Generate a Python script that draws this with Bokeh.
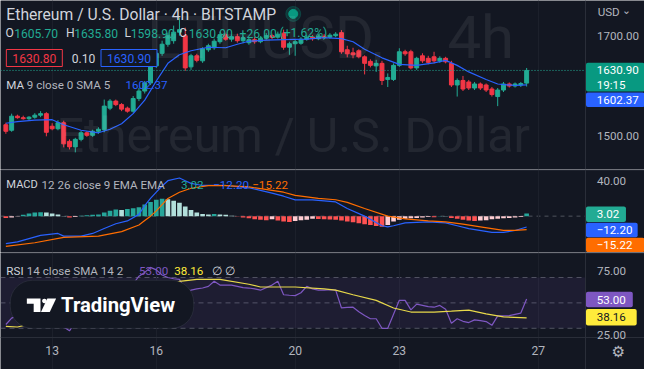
import numpy as np
from bokeh.plotting import figure
from bokeh.models import (Range1d, FixedTicker, Span, BoxAnnotation, Label, LinearAxis,
                          PolyAnnotation, ColumnDataSource, PrintfTickFormatter)
from bokeh.layouts import column
from bokeh.embed import file_html
from bokeh.resources import INLINE

# ---------------- data (4h bars) ----------------
open_ = [1523, 1512, 1540, 1537, 1535, 1538, 1542, 1545, 1520, 1515,
         1527, 1490, 1479, 1494, 1507, 1502, 1510, 1513, 1556, 1570,
         1563, 1556, 1550, 1575, 1590, 1606, 1640, 1665, 1683, 1690,
         1707, 1700, 1638, 1660, 1650, 1672, 1676, 1688, 1702, 1693,
         1698, 1690, 1686, 1692, 1688, 1695, 1700, 1697, 1705, 1677,
         1684, 1685, 1693, 1697, 1694, 1699, 1697, 1700, 1706, 1672,
         1666, 1670, 1658, 1649, 1640, 1645, 1613, 1613, 1641, 1668,
         1668, 1636, 1660, 1655, 1658, 1650, 1655, 1645, 1602, 1611,
         1608, 1596, 1604, 1602, 1594, 1579, 1592, 1604, 1600, 1602,
         1605.7]
high_ = [1527, 1545, 1543, 1541, 1540, 1546, 1550, 1548, 1526, 1532,
         1531, 1494, 1497, 1511, 1510, 1513, 1518, 1573, 1574, 1573,
         1566, 1559, 1580, 1596, 1610, 1645, 1672, 1690, 1706, 1720,
         1735, 1716, 1664, 1664, 1677, 1684, 1694, 1708, 1706, 1702,
         1704, 1700, 1697, 1697, 1699, 1705, 1704, 1708, 1712, 1688,
         1692, 1697, 1702, 1701, 1703, 1703, 1705, 1707, 1711, 1680,
         1676, 1673, 1661, 1653, 1652, 1650, 1625, 1645, 1675, 1672,
         1672, 1658, 1665, 1660, 1668, 1659, 1658, 1650, 1615, 1620,
         1612, 1608, 1607, 1605, 1598, 1596, 1608, 1607, 1607, 1608,
         1635.8]
low_ = [1505, 1509, 1535, 1533, 1532, 1535, 1538, 1500, 1512, 1512,
        1478, 1474, 1468, 1490, 1499, 1499, 1505, 1508, 1552, 1560,
        1550, 1547, 1547, 1570, 1585, 1602, 1636, 1660, 1678, 1684,
        1700, 1630, 1632, 1647, 1646, 1668, 1672, 1684, 1690, 1688,
        1686, 1685, 1682, 1684, 1685, 1692, 1693, 1694, 1672, 1662,
        1660, 1682, 1690, 1690, 1691, 1694, 1694, 1697, 1664, 1657,
        1655, 1655, 1623, 1637, 1628, 1602, 1598, 1610, 1638, 1660,
        1633, 1632, 1646, 1643, 1645, 1646, 1645, 1598, 1579, 1590,
        1592, 1592, 1592, 1588, 1579, 1560, 1588, 1597, 1597, 1598,
        1598.9]
close_ = [1510, 1540, 1537, 1535, 1538, 1542, 1545, 1508, 1515, 1527,
          1485, 1479, 1494, 1507, 1502, 1510, 1514, 1560, 1570, 1563,
          1554, 1550, 1575, 1590, 1606, 1640, 1665, 1683, 1700, 1707,
          1712, 1636, 1660, 1651, 1674, 1680, 1689, 1702, 1693, 1698,
          1690, 1696, 1692, 1688, 1695, 1700, 1697, 1703, 1677, 1684,
          1688, 1693, 1697, 1694, 1699, 1697, 1701, 1703, 1668, 1664,
          1662, 1658, 1645, 1641, 1645, 1611, 1617, 1641, 1668, 1664,
          1636, 1655, 1650, 1647, 1650, 1655, 1648, 1602, 1611, 1594,
          1596, 1604, 1596, 1592, 1583, 1592, 1604, 1600, 1604, 1604.9,
          1630.9]

# MA 9 (SMA)
ma_bar = [0, 2, 5, 8, 10, 13, 16, 18, 20, 22, 24, 26, 28, 30, 32, 35, 38, 40, 42,
          45, 48, 52, 55, 58, 60, 62, 65, 68, 71, 74, 76, 78, 80, 83, 85, 88, 90]
ma_val = [1526, 1529, 1532, 1533, 1523, 1512, 1507, 1514, 1525, 1545, 1572, 1610,
          1645, 1662, 1670, 1677, 1676, 1683, 1689, 1691, 1692, 1693, 1696, 1694,
          1688, 1673, 1656, 1643, 1641, 1646, 1651, 1641, 1628, 1613, 1604, 1601,
          1602.37]

# MACD 12 26 9
macd_bar = [0, 2, 6, 9, 10, 13, 15, 17, 19, 21, 23, 24, 25, 26, 27, 28, 30, 31, 32,
            34, 38, 42, 46, 48, 50, 53, 57, 59, 62, 65, 66, 67, 69, 73, 76, 78, 80,
            84, 86, 88, 90]
macd_val = [-31, -29, -21.6, -19.5, -22.5, -22.5, -19.5, -14, -8.6, -5.4, 2, 12, 20,
            27, 34, 40, 43, 40, 37, 34.6, 34.6, 32, 26, 22.5, 18.4, 18.4, 16, 8.6, 0,
            -10.8, -12, -10.8, -7.6, -6.5, -7.6, -10.8, -14, -18.4, -18.4, -16.2, -12.2]
signal_bar = [0, 5, 10, 16, 20, 23, 24, 25, 26, 27, 28, 30, 32, 35, 38, 42, 46, 48,
              50, 54, 57, 59, 62, 66, 69, 73, 76, 79, 82, 84, 86, 88, 90]
signal_val = [-34, -30, -24, -22.5, -17.5, -10, -5, 0, 6, 13, 20, 27, 31.5, 34.5, 34.5,
              33, 29, 27, 23.5, 20, 18.5, 15.5, 8.6, 0, -3, -5.4, -6.5, -9, -12, -14,
              -16, -16, -15.22]
hist_val = [-2, -1.5, -0.5, 1.5, 3, 4, 4.5, 4, 3, 2,
            0.3, -1.5, -1, 0.5, 1, 1.5, 2, 4, 6, 7.5,
            7, 8, 9, 10, 13, 16, 18.5, 19.5, 19, 17.5,
            15, 11, 7, 4, 2.5, 2, 2.5, 2, 1.5, 0.5,
            -0.5, -1.5, -2.5, -3.5, -4, -4.5, -3.5, -5, -6, -6.5,
            -5.5, -4.5, -4, -3, -3.3, -3.5, -3.8, -4, -5, -6,
            -7, -8, -9, -10, -11, -12, -10, -6, -4, -3,
            -2.5, -2, -1.5, -1, -1.2, 0.3, 0.2, -2, -3, -4,
            -5, -5.5, -5, -4.5, -3.5, -3, -2.5, -2, -1.5, -1,
            3.02]

# RSI 14 and its SMA 14
rsi_val = [33, 38, 40, 43, 44, 45, 46, 36, 38, 39,
           31, 28, 35, 40, 39, 41, 43, 55, 58, 55,
           52, 51, 65, 71, 74, 78, 76, 72, 70, 69,
           68.5, 59.5, 60, 61, 61.7, 63, 67, 64, 64, 64,
           63, 62, 61.7, 61, 60, 62, 64, 67, 56.4, 56,
           55.7, 58, 63, 61, 60, 60, 60.5, 60, 46, 46.5,
           46.6, 43, 40, 37.5, 37.5, 30, 30, 41, 52, 52,
           44.5, 49, 48, 47, 46.6, 48, 45, 34, 37.5, 35.5,
           34.5, 36.6, 36, 35.3, 32.3, 39.8, 39.8, 40, 41, 42,
           53.0]
rsi_ma_bar = [0, 2, 5, 9, 13, 17, 20, 24, 28, 30, 33, 37, 42, 44, 50, 55, 57, 60,
              64, 67, 70, 74, 77, 80, 83, 86, 90]
rsi_ma_val = [31.5, 31, 34, 37, 39, 41, 45, 52, 62, 67, 68.5, 68.5, 64.7, 62.5, 62.5,
              61, 60, 56.4, 52, 46, 42.8, 42.8, 43.5, 44.3, 41.3, 39, 38.16]
rsi_levels = [70, 50, 30]

tick_bar = [8, 26, 50, 68, 92]
tick_labels = ["13", "16", "20", "23", "27"]
bid_price, ask_price = 1630.80, 1630.90
countdown = "19:15"

# ---------------- styling / geometry ----------------
BG = "#131722"
GRID = "#1c202b"
SEP = "#2a2e39"
TXT = "#d1d4dc"
TXT2 = "#b2b5be"
UP = "#22ab94"
DOWN = "#f23645"
BLUE = "#2962ff"
ORANGE = "#ff6d00"
PURPLE = "#7e57c2"
YELLOW = "#ffeb3b"
FONT = "Roboto"

W, H = 644, 369
SX, SY = W / 660, H / 385
FS = 0.967
CUTS = [0, 169, 252, 369]          # canvas rows of the three panes
REF = [c / SY for c in CUTS]        # same rows in reference pixels


def fs(px):
    return f"{px * FS:.1f}px"


def fx(px):          # reference x pixel -> bar index
    return (px - 5.5) / 5.93


def fy_p(py):
    return 1700 - (py - 36.7) / 0.525


def fy_m(py):
    return (225 - py) / 0.925


def fy_r(py):
    return 70 + (289 - py) / 1.325


X0, X1 = fx(0), fx(660)
XAX = fx(600)


def make_fig(k, fy):
    h = CUTS[k + 1] - CUTS[k]
    p = figure(width=W, height=h, x_range=Range1d(X0, X1),
               y_range=Range1d(fy(REF[k + 1]), fy(REF[k])),
               output_backend="svg", toolbar_location=None, y_axis_location="right",
               x_axis_location=None, min_border=0,
               background_fill_color=BG, border_fill_color=BG, outline_line_color=None)
    ax = p.yaxis[0]
    ax.fixed_location = XAX
    ax.major_tick_out = 0
    ax.major_tick_in = 0
    ax.minor_tick_out = 0
    ax.minor_tick_in = 0
    ax.major_tick_line_color = None
    ax.minor_tick_line_color = None
    ax.axis_line_color = SEP
    ax.major_label_text_color = TXT2
    ax.major_label_text_font = FONT
    ax.major_label_text_font_size = fs(12)
    ax.major_label_standoff = 11
    ax.formatter = PrintfTickFormatter(format="%.2f")
    p.xgrid.ticker = FixedTicker(ticks=tick_bar)
    p.xgrid.grid_line_color = GRID
    p.ygrid.grid_line_color = None
    if k > 0:
        p.add_layout(Span(location=fy(REF[k] + 0.5 / SY), dimension="width",
                          line_color=SEP, line_width=1))
    return p


def lab(p, fy, px, py, text, color, size=12, bold=False, font=FONT, align="left"):
    p.add_layout(Label(x=fx(px), y=fy(py), text=text, text_color=color,
                       text_font=font, text_font_size=fs(size),
                       text_font_style="bold" if bold else "normal",
                       text_align=align, text_baseline="middle"))


def legend_box(p, fy, px, py, text, color, size=12.5):
    p.add_layout(Label(x=fx(px), y=fy(py), text=text, text_color=color,
                       text_font=FONT, text_font_size=fs(size), text_align="left",
                       text_baseline="middle", background_fill_color=BG,
                       border_line_color=color,
                       padding=dict(left=6, right=6, top=4, bottom=4)))


def tag(p, fy, y0, y1, right, bg, lines, color="#ffffff"):
    """price-scale tag: filled box from the scale edge, text lines inside"""
    p.add_layout(BoxAnnotation(left=XAX, right=fx(right), top=fy(y0), bottom=fy(y1),
                               fill_color=bg, fill_alpha=1, line_color=None,
                               border_radius=2))
    for text, py in lines:
        lab(p, fy, 611, py, text, color)


def watermark(p, px, py, text, size, align):
    p.add_layout(Label(x=fx(px), y=fy_p(py), text=text, text_color="#ffffff",
                       text_alpha=0.07, text_font=FONT, text_font_size=fs(size),
                       text_align=align, text_baseline="middle", level="guide"))


bars = list(range(len(close_)))

# ---------------- price pane ----------------
p1 = make_fig(0, fy_p)
p1.yaxis.ticker = FixedTicker(ticks=[1500, 1700])

watermark(p1, 392, 39, "ETHUSD,", 62, "right")
watermark(p1, 458, 39, "4h", 62, "left")
watermark(p1, 300, 141, "Ethereum / U.S. Dollar", 50, "center")

cols = [UP if c >= o else DOWN for o, c in zip(open_, close_)]
src = ColumnDataSource(dict(x=bars, o=open_, h=high_, l=low_, c=close_, col=cols,
                            top=[max(o, c) for o, c in zip(open_, close_)],
                            bot=[min(o, c) for o, c in zip(open_, close_)]))
p1.segment("x", "h", "x", "l", color="col", source=src, line_width=1)
p1.vbar(x="x", width=0.68, top="top", bottom="bot", fill_color="col",
        line_color="col", source=src)
p1.line(ma_bar, ma_val, color=BLUE, line_width=1.2)
p1.segment(x0=[X0], x1=[XAX], y0=[close_[-1]], y1=[close_[-1]], line_color=UP,
           line_dash="1 2", line_width=1)

# legend texts
lab(p1, fy_p, 6, 15, "Ethereum / U.S. Dollar · 4h · BITSTAMP", TXT, size=16.2)
p1.scatter([fx(300)], [fy_p(14)], size=15, color="#089981", alpha=0.25)
p1.scatter([fx(300)], [fy_p(14)], size=9, color="#089981")
chg = close_[-1] - close_[-2]
pct = chg / close_[-2] * 100
ohlc = [("O", 5), (f"{open_[-1]:.2f}", 14), ("H", 67), (f"{high_[-1]:.2f}", 75.5),
        ("L", 127), (f"{low_[-1]:.2f}", 133.5), ("C", 183), (f"{close_[-1]:.2f}", 193),
        (f"+{chg:.2f}", 245), (f"(+{pct:.2f}%)", 286)]
for i, (t, px) in enumerate(ohlc):
    lab(p1, fy_p, px, 34, t, TXT if i in (0, 2, 4, 6) else UP, size=12.5)

legend_box(p1, fy_p, 6, 60, f"{bid_price:.2f}", DOWN)
lab(p1, fy_p, 73, 60, f"{ask_price - bid_price:.2f}", TXT, size=12.5)
legend_box(p1, fy_p, 103, 60, f"{ask_price:.2f}", BLUE)

lab(p1, fy_p, 6, 88, "MA", TXT)
lab(p1, fy_p, 27, 88, "9 close 0 SMA 5", TXT2)
lab(p1, fy_p, 128, 88, f"{ma_val[-1]:.2f}", BLUE)

# right scale tags
tag(p1, fy_p, 65, 95, 660, "#089981", [(f"{close_[-1]:.2f}", 73), (countdown, 88)])
tag(p1, fy_p, 96, 111, 660, BLUE, [(f"{ma_val[-1]:.2f}", 103.5)])
lab(p1, fy_p, 612, 12, "USD", TXT2)
lab(p1, fy_p, 637, 10, "⌄", TXT2, size=11, font="DejaVu Sans")

# ---------------- MACD pane ----------------
p2 = make_fig(1, fy_m)
p2.yaxis.ticker = FixedTicker(ticks=[40])
p2.segment(x0=[X0], x1=[XAX], y0=[0], y1=[0], line_color="#787b86", line_alpha=0.6,
           line_dash="4 4", line_width=1, level="underlay")

hcols = []
for i, h in enumerate(hist_val):
    prev = hist_val[i - 1] if i else h
    if h >= 0:
        hcols.append("#26a69a" if h >= prev else "#b2dfdb")
    else:
        hcols.append("#ffcdd2" if h > prev else "#ff5252")
p2.vbar(x=bars, width=0.8, top=hist_val, bottom=0, fill_color=hcols, line_color=None)
p2.line(macd_bar, macd_val, color=BLUE, line_width=1.2)
p2.line(signal_bar, signal_val, color=ORANGE, line_width=1.2)

lab(p2, fy_m, 6, 192, "MACD", TXT, size=11.5)
lab(p2, fy_m, 42, 192, "12 26 close 9 EMA EMA", TXT2)
lab(p2, fy_m, 185, 192, f"{hist_val[-1]:.2f}", UP)
lab(p2, fy_m, 218, 192, f"{macd_val[-1]:.2f}".replace("-", "−"), BLUE)
lab(p2, fy_m, 258, 192, f"{signal_val[-1]:.2f}".replace("-", "−"), ORANGE)

tag(p2, fy_m, 215, 231, 641, UP, [(f"{hist_val[-1]:.2f}", 223)])
tag(p2, fy_m, 232, 247, 653, BLUE, [(f"{macd_val[-1]:.2f}".replace("-", "−"), 239.5)])
tag(p2, fy_m, 247.5, 262.5, 660, ORANGE,
    [(f"{signal_val[-1]:.2f}".replace("-", "−"), 255)])

# ---------------- RSI pane + time axis ----------------
p3 = make_fig(2, fy_r)
p3.yaxis.ticker = FixedTicker(ticks=[25, 75])
p3.add_layout(BoxAnnotation(left=X0, right=XAX, bottom=rsi_levels[2], top=rsi_levels[0],
                            fill_color=PURPLE, fill_alpha=0.1, line_color=None,
                            level="underlay"))
p3.segment(x0=[X0] * 3, x1=[XAX] * 3, y0=rsi_levels, y1=rsi_levels, line_color="#787b86",
           line_alpha=0.6, line_dash="5 4", line_width=1, level="underlay")
p3.line(bars, rsi_val, color=PURPLE, line_width=1.2)
p3.line(rsi_ma_bar, rsi_ma_val, color="#e8d94a", line_width=1.2)

xa = LinearAxis(fixed_location=fy_r(352), ticker=FixedTicker(ticks=tick_bar),
                major_label_overrides={t: s for t, s in zip(tick_bar, tick_labels)},
                major_tick_out=0, major_tick_in=0, minor_tick_out=0, minor_tick_in=0,
                major_tick_line_color=None, minor_tick_line_color=None,
                axis_line_color=SEP, major_label_text_color=TXT2,
                major_label_text_font=FONT, major_label_text_font_size=fs(12.5),
                major_label_standoff=8)
p3.add_layout(xa, "below")

lab(p3, fy_r, 6, 282, "RSI", TXT)
lab(p3, fy_r, 27, 282, "14 close SMA 14 2", TXT2)
lab(p3, fy_r, 142, 282, f"{rsi_val[-1]:.2f}", PURPLE)
lab(p3, fy_r, 178, 282, f"{rsi_ma_val[-1]:.2f}", YELLOW)
lab(p3, fy_r, 217, 282, "∅ ∅", TXT)

tag(p3, fy_r, 304, 320, 648, PURPLE, [(f"{rsi_val[-1]:.2f}", 312)])
tag(p3, fy_r, 322, 339, 652, YELLOW, [(f"{rsi_ma_val[-1]:.2f}", 330.5)], color="#131722")

# TradingView badge
p3.add_layout(BoxAnnotation(left=fx(10), right=fx(198), top=fy_r(292), bottom=fy_r(342),
                            fill_color="#131722", fill_alpha=1, line_color="#4a4e5a",
                            line_width=1, border_radius=22))
logo_T = [(27, 311), (41, 311), (41, 325), (34, 325), (34, 316.5), (27, 316.5)]
logo_S = [(48, 311), (57, 311), (50.5, 325), (41.5, 325)]
for poly in (logo_T, logo_S):
    p3.add_layout(PolyAnnotation(xs=[fx(a) for a, b in poly], ys=[fy_r(b) for a, b in poly],
                                 fill_color="#ffffff", fill_alpha=1, line_color=None))
ang = np.linspace(0, 2 * np.pi, 13)[:-1]
p3.add_layout(PolyAnnotation(xs=[fx(45 + 2.4 * np.cos(a)) for a in ang],
                             ys=[fy_r(313.5 + 2.4 * np.sin(a)) for a in ang],
                             fill_color="#ffffff", fill_alpha=1, line_color=None))
lab(p3, fy_r, 62, 318, "TradingView", "#ffffff", size=21, bold=True)

lab(p3, fy_r, 633, 367, "⚙", TXT2, size=16, font="DejaVu Sans", align="center")

layout = column(p1, p2, p3, spacing=0)
open("out.html", "w").write(file_html(layout, INLINE))
